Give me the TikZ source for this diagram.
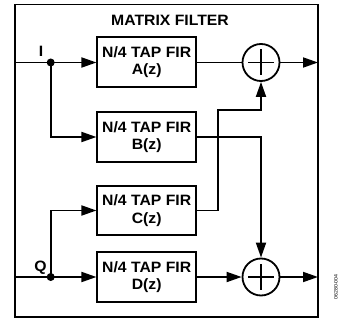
\documentclass[tikz,border=0pt]{standalone}
\usepackage{fontspec}
\setmainfont{Liberation Sans}[FakeStretch=1.05]
\usetikzlibrary{arrows.meta}
\begin{document}
\begin{tikzpicture}[x=1pt,y=-1pt, line width=1.8pt,
  fir/.style={draw, minimum width=98.7pt, minimum height=49.5pt, inner sep=0pt, align=center,
    font=\bfseries\fontsize{15}{17.4}\selectfont},
  adder/.style={draw, circle, minimum size=37pt, inner sep=0pt,
    path picture={\draw[line width=1.6pt] (path picture bounding box.center) +(-13,0) -- +(13,0)
      (path picture bounding box.center) +(0,-13) -- +(0,13);}},
  lbl/.style={font=\bfseries\fontsize{15}{18}\selectfont, inner sep=0pt},
  dot/.style={circle, fill, inner sep=0pt, minimum size=8pt},
  >={Triangle[length=15pt,width=10pt]}]
\useasboundingbox (0,0) rectangle (342,320);
\node[draw, minimum width=303pt, minimum height=312.5pt, inner sep=0pt] (frame) at (166.5,160.75) {};
\node[lbl] (title) at (170,20.3) {MATRIX FILTER};
\node[fir] (A) at (146.7,62) {N/4 TAP FIR\\A(z)};
\node[fir] (B) at (146.7,137) {N/4 TAP FIR\\B(z)};
\node[fir] (C) at (146.7,210.5) {N/4 TAP FIR\\C(z)};
\node[fir] (D) at (146.7,277) {N/4 TAP FIR\\D(z)};
\node[adder] (SA) at (261,62.5) {};
\node[adder] (SD) at (261,277) {};
\node[dot] (dI) at (50.7,62.5) {};
\node[dot] (dQ) at (50.7,277) {};
\coordinate (inI) at (15,62.5);
\coordinate (inQ) at (15,277);
\coordinate (outA) at (318,62.5);
\coordinate (outD) at (318,277);
\coordinate (c1) at (218.3,110);
\node[lbl] (lI) at (41,51) {I};
\node[lbl] (lQ) at (40.5,268) {Q};
\node[rotate=90, font=\fontsize{5}{6}\selectfont, inner sep=0pt] (fig) at (336,287) {06280-004};
\draw (inI) -- (dI.center);
\draw[->] (dI.center) -- (A.west |- dI);
\draw[->] (dI.center) |- (B.west);
\draw (A.east |- SA) -- (SA.west);
\draw[->] (SA.east) -- (outA);
\draw[->] (B.east) -| (SD.north);
\draw[->] (C.east) -| (c1) -| (SA.south);
\draw (inQ) -- (dQ.center);
\draw[->] (dQ.center) -- (D.west);
\draw[->] (dQ.center) |- (C.west);
\draw[->] (D.east) -- (SD.west);
\draw[->] (SD.east) -- (outD);
\end{tikzpicture}
\end{document}
